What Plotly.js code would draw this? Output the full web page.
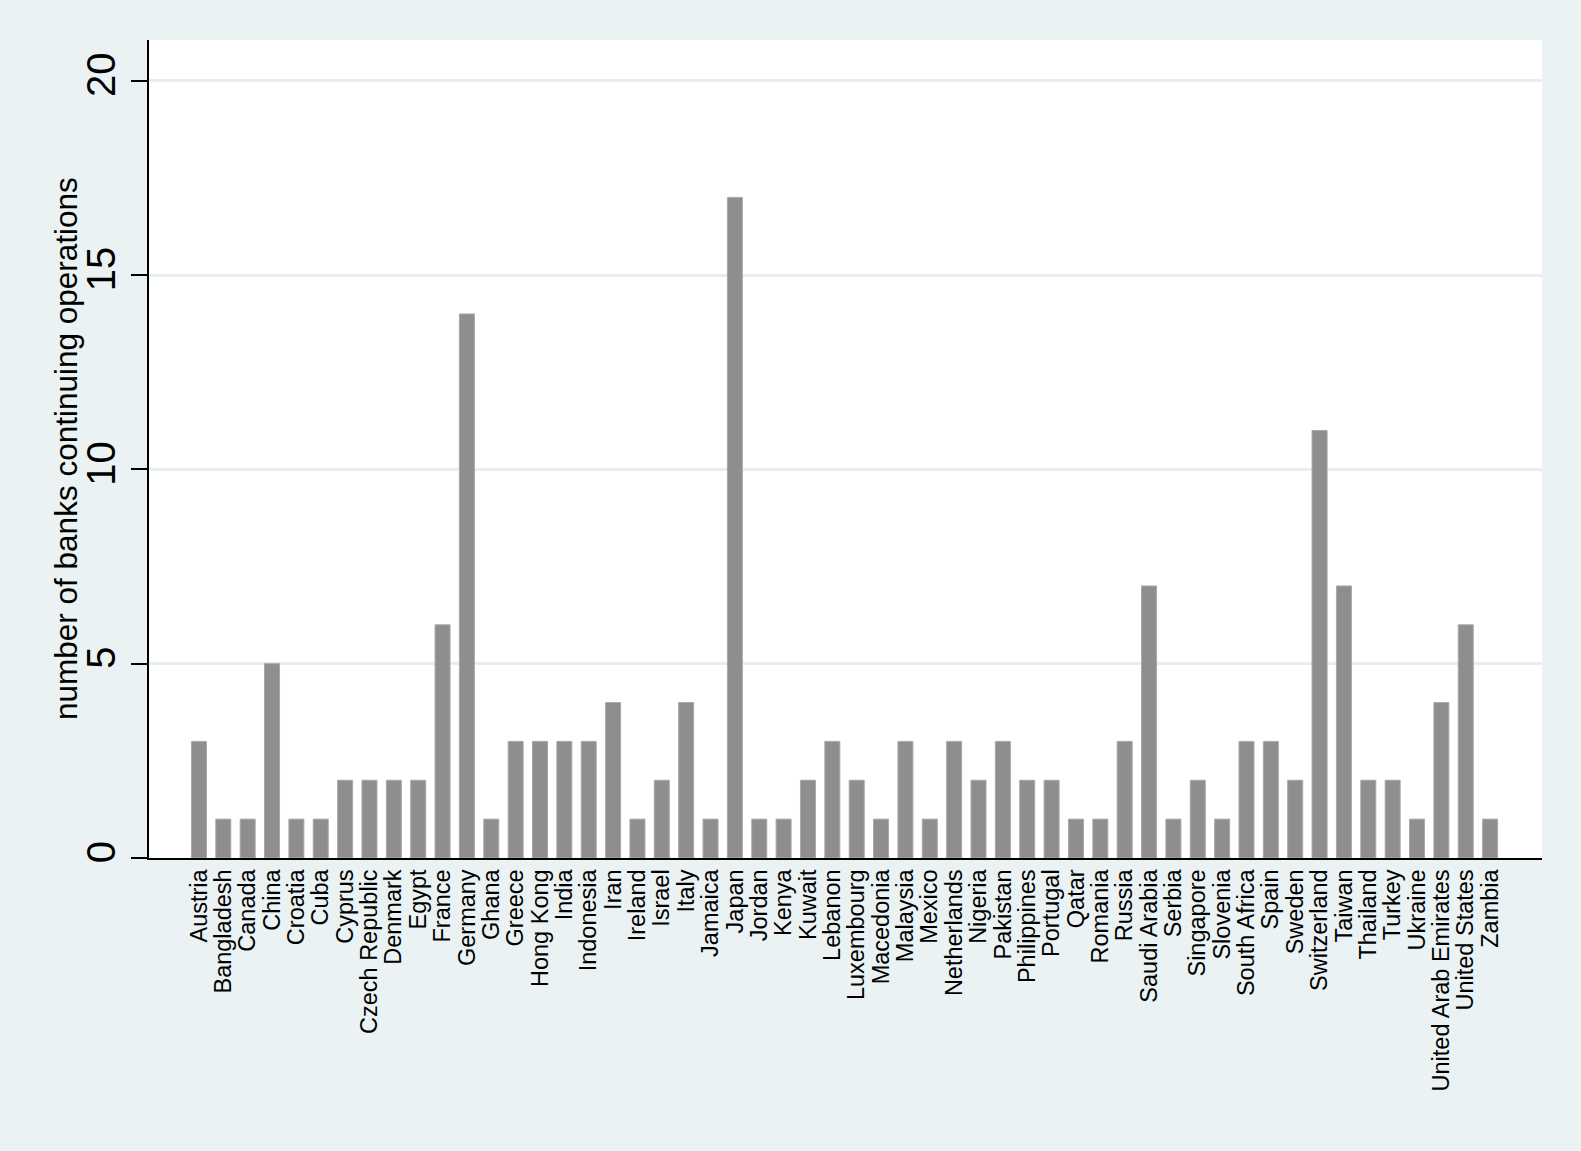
<!DOCTYPE html>
<html>
<head>
<meta charset="utf-8">
<script src="https://cdn.plot.ly/plotly-3.0.1.min.js"></script>
<style>
html,body{margin:0;padding:0;background:#EAF2F3;}
#chart{width:1581px;height:1151px;}
</style>
</head>
<body>
<div id="chart"></div>
<script>
const countries = ["Austria","Bangladesh","Canada","China","Croatia","Cuba","Cyprus","Czech Republic","Denmark","Egypt","France","Germany","Ghana","Greece","Hong Kong","India","Indonesia","Iran","Ireland","Israel","Italy","Jamaica","Japan","Jordan","Kenya","Kuwait","Lebanon","Luxembourg","Macedonia","Malaysia","Mexico","Netherlands","Nigeria","Pakistan","Philippines","Portugal","Qatar","Romania","Russia","Saudi Arabia","Serbia","Singapore","Slovenia","South Africa","Spain","Sweden","Switzerland","Taiwan","Thailand","Turkey","Ukraine","United Arab Emirates","United States","Zambia"];
const banks = [3,1,1,5,1,1,2,2,2,2,6,14,1,3,3,3,3,4,1,2,4,1,17,1,1,2,3,2,1,3,1,3,2,3,2,2,1,1,3,7,1,2,1,3,3,2,11,7,2,2,1,4,6,1];
const yTicks = [0,5,10,15,20];
const yTitle = "number of banks continuing operations";

const trace = {
  type: "bar",
  x: countries,
  y: banks,
  marker: {color: "#8E8E8E", line: {color: "#A8A8A8", width: 1}},
  hoverinfo: "x+y"
};

const layout = {
  width: 1581,
  height: 1151,
  paper_bgcolor: "#EAF2F3",
  plot_bgcolor: "#FFFFFF",
  margin: {l: 149, r: 39, t: 40, b: 293, pad: 0},
  bargap: 0.384,
  showlegend: false,
  font: {family: "Liberation Sans, Arial, sans-serif", color: "#000"},
  xaxis: {
    type: "category",
    range: [-2.05, 55.13],
    tickmode: "array",
    tickvals: countries,
    ticktext: countries,
    tickangle: -90,
    ticks: "",
    tickfont: {size: 23.5, family: "Liberation Sans, Arial, sans-serif", color: "#000"},
    showline: true, linecolor: "#000", linewidth: 2,
    showgrid: false, zeroline: false,
    automargin: false
  },
  yaxis: {
    range: [0, 21.05],
    tickmode: "array",
    tickvals: yTicks,
    ticktext: yTicks.map(String),
    tickangle: -90,
    ticks: "outside", ticklen: 16, tickwidth: 2, tickcolor: "#000",
    tickfont: {size: 40, family: "Liberation Sans, Arial, sans-serif", color: "#000"},
    showline: true, linecolor: "#000", linewidth: 2,
    showgrid: true, gridcolor: "#E6EEF0", gridwidth: 3,
    zeroline: false,
    automargin: false
  },
  annotations: [{
    text: yTitle,
    xref: "paper", yref: "paper",
    x: 0, y: 0.5,
    xanchor: "center", yanchor: "middle",
    xshift: -83,
    textangle: -90,
    showarrow: false,
    font: {size: 31.5, family: "Liberation Sans, Arial, sans-serif", color: "#000"}
  }]
};

Plotly.newPlot("chart", [trace], layout, {displayModeBar: false, staticPlot: true});
</script>
</body>
</html>
